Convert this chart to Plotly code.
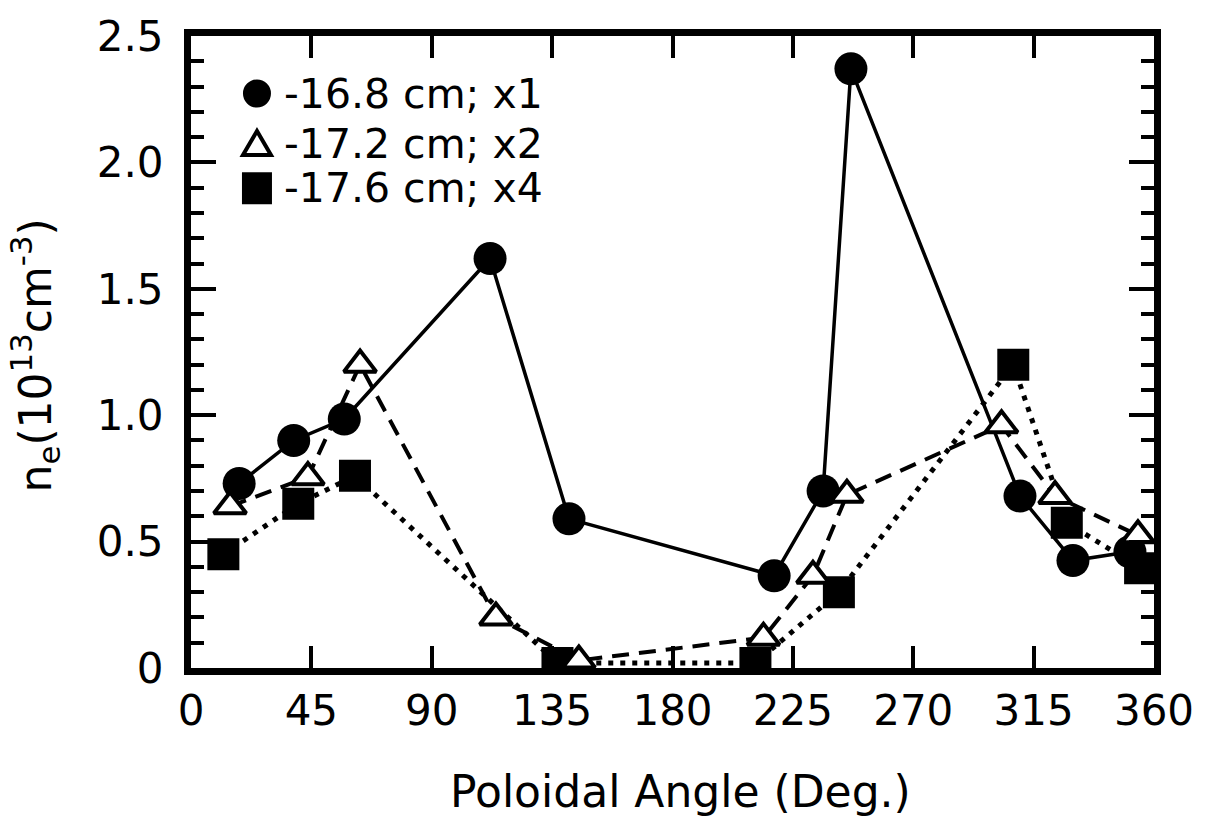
import plotly.graph_objects as go

# Electron density vs poloidal angle at three minor-radius positions
angle_168 = [18.0, 38.4, 57.3, 111.8, 141.3, 218.0, 236.3, 246.7, 309.9, 329.7, 351.0]
ne_168 = [0.73, 0.90, 0.985, 1.62, 0.59, 0.365, 0.70, 2.37, 0.68, 0.425, 0.46]

angle_172 = [14.6, 43.7, 63.2, 114.0, 145.0, 214.0, 232.5, 245.2, 303.0, 323.0, 354.0]
ne_172 = [0.64, 0.755, 1.20, 0.20, 0.03, 0.12, 0.365, 0.685, 0.96, 0.68, 0.525]

angle_176 = [12.1, 40.1, 61.3, 137.0, 211.0, 242.2, 307.4, 327.4, 354.8]
ne_176 = [0.45, 0.65, 0.76, 0.02, 0.02, 0.30, 1.20, 0.575, 0.395]

series_labels = ["-16.8 cm; x1", "-17.2 cm; x2", "-17.6 cm; x4"]

x_ticks = [0, 45, 90, 135, 180, 225, 270, 315, 360]
y_ticks = [0, 0.5, 1.0, 1.5, 2.0, 2.5]
y_ticktext = ["0", "0.5", "1.0", "1.5", "2.0", "2.5"]

FONT = "DejaVu Sans"
INK = "black"

fig = go.Figure()

# dotted series (squares)
fig.add_trace(go.Scatter(
    x=angle_176, y=ne_176, mode="lines+markers", showlegend=False,
    line=dict(color=INK, width=5, dash="5px,7px"),
    marker=dict(symbol="square", size=32, color=INK, line=dict(width=0)),
))
# solid series (circles)
fig.add_trace(go.Scatter(
    x=angle_168, y=ne_168, mode="lines+markers", showlegend=False,
    line=dict(color=INK, width=3.5),
    marker=dict(symbol="circle", size=33, color=INK, line=dict(width=0)),
))
# dashed series (open triangles)
fig.add_trace(go.Scatter(
    x=angle_172, y=ne_172, mode="lines+markers", showlegend=False,
    line=dict(color=INK, width=4, dash="17px,10px"),
    marker=dict(symbol="triangle-up", size=28, color="white",
                line=dict(width=4, color=INK)),
))

axis_common = dict(
    showline=True, linewidth=7, linecolor=INK, mirror="ticks",
    ticks="inside", tickcolor=INK, tickwidth=3.5,
    showgrid=False, zeroline=False,
    tickfont=dict(family=FONT, size=42, color=INK),
)

fig.update_xaxes(
    range=[0, 360], tickvals=x_ticks, ticklen=22, ticklabelstandoff=0,
    **axis_common,
)
fig.update_yaxes(
    range=[0, 2.5], tickvals=y_ticks, ticktext=y_ticktext, ticklen=25,
    ticklabelstandoff=12,
    minor=dict(dtick=0.1, ticklen=13, ticks="inside", tickwidth=3.5, tickcolor=INK),
    **axis_common,
)

# legend glyphs and labels
leg_x = 0.0685
leg_rows = [0.909, 0.829, 0.759]
shapes = [
    dict(type="circle", xref="paper", yref="paper", xsizemode="pixel", ysizemode="pixel",
         xanchor=leg_x, yanchor=leg_rows[0], x0=-14, x1=14, y0=-14, y1=14,
         fillcolor=INK, line=dict(width=0)),
    dict(type="path", xref="paper", yref="paper", xsizemode="pixel", ysizemode="pixel",
         xanchor=leg_x, yanchor=leg_rows[1], path="M -14,-11 L 14,-11 L 0,13 Z",
         fillcolor="white", line=dict(width=4, color=INK)),
    dict(type="rect", xref="paper", yref="paper", xsizemode="pixel", ysizemode="pixel",
         xanchor=leg_x, yanchor=leg_rows[2], x0=-15, x1=15, y0=-16, y1=16,
         fillcolor=INK, line=dict(width=0)),
]
annotations = [
    dict(text=label, xref="paper", yref="paper", x=0.0945, y=row,
         xanchor="left", yanchor="middle", showarrow=False,
         font=dict(family=FONT, size=41, color=INK))
    for label, row in zip(series_labels, leg_rows)
]
annotations.append(dict(
    text="Poloidal Angle (Deg.)", xref="paper", yref="paper", x=0.508, y=-0.1956,
    xanchor="center", yanchor="middle", showarrow=False,
    font=dict(family=FONT, size=44, color=INK)))
annotations.append(dict(
    text="n<sub>e</sub>(10<sup>13</sup>cm<sup>-3</sup>)", xref="paper", yref="paper",
    x=-0.161, y=0.4945, xanchor="center", yanchor="middle", textangle=-90,
    showarrow=False, font=dict(family=FONT, size=44, color=INK)))

fig.update_layout(
    width=1218, height=827,
    margin=dict(l=191, r=64, t=29, b=159, pad=0),
    paper_bgcolor="white", plot_bgcolor="white",
    shapes=shapes, annotations=annotations,
)

fig.write_html("out.html")
